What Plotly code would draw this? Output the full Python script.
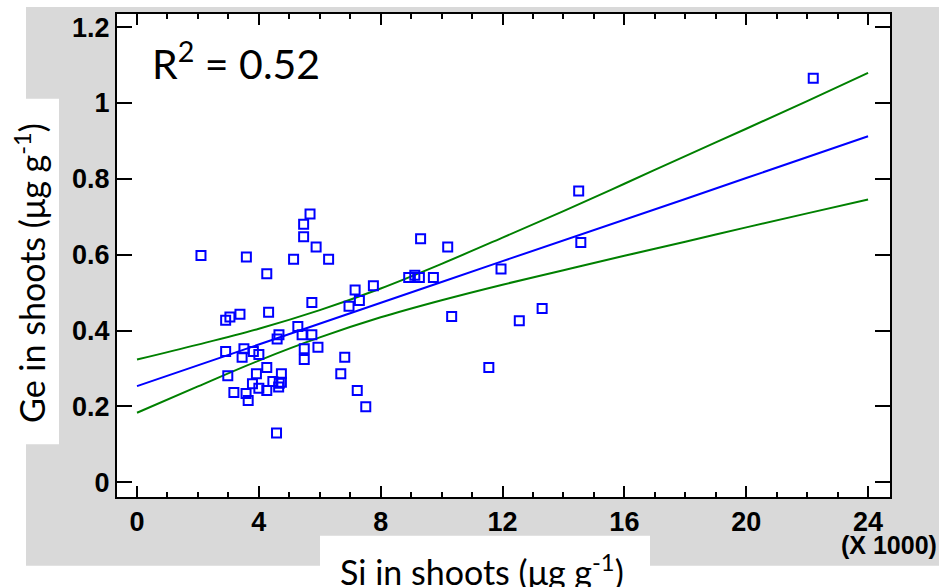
import plotly.graph_objects as go

# ---- data (Si in µg/g, Ge in µg/g) ----
si = [2100, 3590, 4260, 5680, 5470, 5470, 5880, 5140, 6290, 5740,
      4320, 2910, 3050, 3380, 7160, 7760, 6960, 7300, 5280, 4660,
      4600, 5420, 5740, 5490, 5490, 5940, 2910, 3510, 3450, 3820,
      4000, 2980, 4260, 3920, 4740, 3790, 4000, 4460, 4670, 4740,
      4650, 4260, 3180, 3580, 3650, 4580, 6820, 6690, 7230, 7510,
      9310, 10200, 8920, 9120, 9270, 9730, 11950, 14570, 10330, 12550,
      13300, 11550, 14500, 22200]
ge = [0.598, 0.594, 0.550, 0.707, 0.680, 0.647, 0.620, 0.588, 0.588, 0.474,
      0.448, 0.427, 0.436, 0.443, 0.507, 0.518, 0.464, 0.479, 0.411, 0.389,
      0.378, 0.389, 0.389, 0.352, 0.324, 0.356, 0.345, 0.352, 0.330, 0.345,
      0.337, 0.281, 0.303, 0.286, 0.286, 0.260, 0.248, 0.266, 0.261, 0.264,
      0.251, 0.242, 0.237, 0.234, 0.216, 0.130, 0.330, 0.286, 0.242, 0.199,
      0.642, 0.620, 0.540, 0.546, 0.540, 0.540, 0.562, 0.632, 0.437, 0.426,
      0.458, 0.303, 0.768, 1.065]

line_si = [0, 2000, 4000, 6000, 8000, 10000, 12000, 14000, 16000, 18000, 20000, 22000, 24000]
fit_ge = [0.2535, 0.308, 0.363, 0.418, 0.473, 0.528, 0.583, 0.637, 0.692, 0.747, 0.802, 0.857, 0.912]
upper_ge = [0.3236, 0.363, 0.405, 0.454, 0.511, 0.576, 0.645, 0.715, 0.787, 0.860, 0.932, 1.005, 1.079]
lower_ge = [0.1835, 0.253, 0.321, 0.382, 0.435, 0.480, 0.521, 0.559, 0.597, 0.634, 0.672, 0.709, 0.7455]

x_tickvals = [0, 4000, 8000, 12000, 16000, 20000, 24000]
x_ticktext = ["0", "4", "8", "12", "16", "20", "24"]
y_tickvals = [0, 0.2, 0.4, 0.6, 0.8, 1.0, 1.2]
y_ticktext = ["0", "0.2", "0.4", "0.6", "0.8", "1", "1.2"]

W, H = 939, 587
L, R, T, B = 117, 890, 12, 497

fig = go.Figure()
fig.add_trace(go.Scatter(x=line_si, y=upper_ge, mode="lines",
                         line=dict(color="#008000", width=2, shape="spline"), hoverinfo="skip"))
fig.add_trace(go.Scatter(x=line_si, y=lower_ge, mode="lines",
                         line=dict(color="#008000", width=2, shape="spline"), hoverinfo="skip"))
fig.add_trace(go.Scatter(x=line_si, y=fit_ge, mode="lines",
                         line=dict(color="#0000ff", width=2), hoverinfo="skip"))
fig.add_trace(go.Scatter(x=si, y=ge, mode="markers",
                         marker=dict(symbol="square-open", size=9,
                                     color="#0000ff", line=dict(width=2, color="#0000ff"))))

def px_x(p):
    return (p - L) / (R - L)

def px_y(p):
    return (B - p) / (B - T)

shapes = []
def white_rect(x0, y0, x1, y1):
    shapes.append(dict(type="rect", xref="paper", yref="paper",
                       x0=px_x(x0), x1=px_x(x1), y0=px_y(y1), y1=px_y(y0),
                       fillcolor="white", line=dict(width=0), layer="below"))

white_rect(-5, -5, W + 5, 5)        # top strip
white_rect(-5, -5, 26, H + 5)       # left strip
white_rect(-5, 566, W + 5, H + 5)   # bottom strip
white_rect(-5, 97, 59, 444)         # y-title box
white_rect(320, 536, 650, H + 5)    # x-title box

NARROW = "Liberation Sans Narrow, Arial Narrow, Liberation Sans, Arial"
tickfont = dict(family=NARROW, size=27, color="black", weight="bold")

fig.update_layout(
    width=W, height=H,
    margin=dict(l=L, r=W - R, t=T, b=H - B),
    paper_bgcolor="#d9d9d9", plot_bgcolor="white",
    showlegend=False,
    shapes=shapes,
    xaxis=dict(range=[-657, 24720], tickvals=x_tickvals, ticktext=x_ticktext,
               ticks="inside", ticklen=11, tickwidth=2, tickcolor="black",
               showline=True, linewidth=2, linecolor="black", mirror="ticks",
               showgrid=False, zeroline=False, tickfont=tickfont,
               minor=dict(dtick=1000, tick0=0, ticks="inside", ticklen=5,
                          tickwidth=2, tickcolor="black", showgrid=False)),
    yaxis=dict(range=[-0.0386, 1.2344], tickvals=y_tickvals, ticktext=y_ticktext,
               ticks="inside", ticklen=15, tickwidth=2, tickcolor="black",
               showline=True, linewidth=2, linecolor="black", mirror="ticks",
               showgrid=False, zeroline=False, tickfont=tickfont),
    annotations=[
        dict(text="R<sup>2</sup> = 0.52", xref="paper", yref="paper",
             x=px_x(150), y=px_y(59), xanchor="left", yanchor="middle",
             showarrow=False, font=dict(family="Lato", size=41, color="black")),
        dict(text="Ge in shoots (μg g<sup>-1</sup>)", xref="paper", yref="paper",
             x=px_x(30), y=px_y(272), xanchor="center", yanchor="middle",
             textangle=-90, showarrow=False,
             font=dict(family="Lato", size=34, color="black")),
        dict(text="Si in shoots (μg g<sup>-1</sup>)", xref="paper", yref="paper",
             x=px_x(482), y=px_y(570), xanchor="center", yanchor="middle",
             showarrow=False, font=dict(family="Lato", size=34, color="black")),
        dict(text="(X 1000)", xref="paper", yref="paper",
             x=px_x(889), y=px_y(545), xanchor="center", yanchor="middle",
             showarrow=False,
             font=dict(family=NARROW, size=25, color="black", weight="bold")),
    ],
)

fig.write_html("out.html")
